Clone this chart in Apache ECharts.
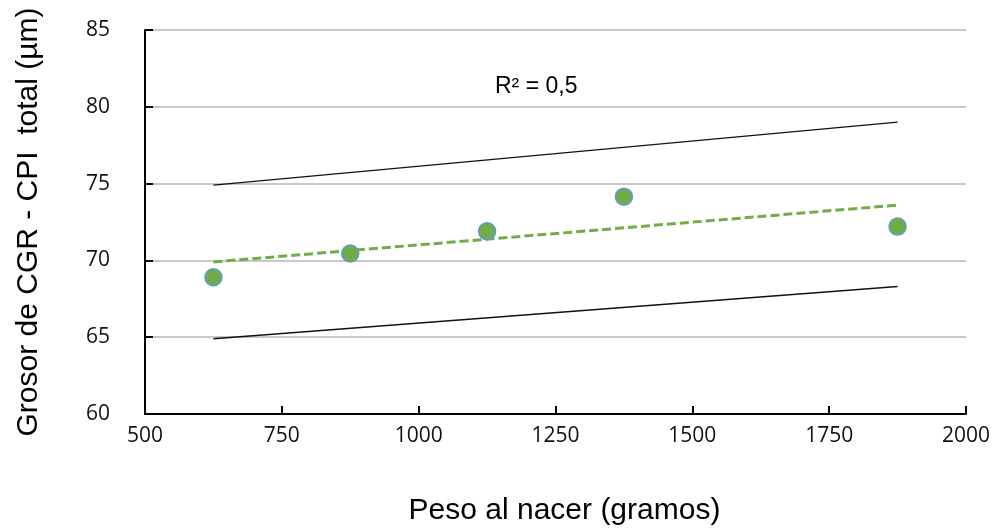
<!DOCTYPE html>
<html>
<head>
<meta charset="utf-8">
<script src="https://cdn.jsdelivr.net/npm/echarts@6/dist/echarts.min.js"></script>
<style>
  html, body { margin: 0; padding: 0; background: #fff; }
  #chart { width: 997px; height: 531px; }
</style>
</head>
<body>
<div id="chart"></div>
<script>
// Birth weight (g) vs. GCL-IPL total thickness (µm)
const pesoGramos = [625, 875, 1125, 1375, 1875];
const grosorUm = [68.9, 70.45, 71.9, 74.15, 72.2];

// Linear trend and its bounding lines (endpoints)
const lineaX = [625, 1875];
const tendencia = [69.9, 73.6];
const limiteSuperior = [74.9, 79.0];
const limiteInferior = [64.9, 68.3];

const r2Texto = 'R\u00b2 = 0,5';
const xTicks = { min: 500, max: 2000, step: 250 };
const yTicks = { min: 60, max: 85, step: 5 };

const pares = (xs, ys) => xs.map((x, i) => [x, ys[i]]);

const chart = echarts.init(document.getElementById('chart'), null, { renderer: 'canvas' });

const tickFont = { fontFamily: 'Open Sans', fontSize: 21, color: '#111', formatter: v => String(v) };

chart.setOption({
  animation: false,
  backgroundColor: '#ffffff',
  grid: { left: 145, right: 31, top: 30, bottom: 113, containLabel: false },
  xAxis: {
    type: 'value',
    min: xTicks.min, max: xTicks.max, interval: xTicks.step,
    name: 'Peso al nacer (gramos)',
    nameLocation: 'middle',
    nameGap: 82,
    nameTextStyle: { fontFamily: 'Liberation Sans', fontSize: 30, color: '#000', verticalAlign: 'top', padding: [0, 0, 0, 18] },
    axisLine: { show: true, onZero: false, lineStyle: { color: '#000', width: 2 } },
    axisTick: { show: true, inside: true, length: 8, lineStyle: { color: '#000', width: 2 } },
    axisLabel: Object.assign({ margin: 12 }, tickFont),
    splitLine: { show: false }
  },
  yAxis: {
    type: 'value',
    min: yTicks.min, max: yTicks.max, interval: yTicks.step,
    name: 'Grosor de CGR - CPI  total (\u00b5m)',
    nameLocation: 'middle',
    nameGap: 101,
    nameRotate: 90,
    nameTextStyle: { fontFamily: 'Liberation Sans', fontSize: 30, color: '#000' },
    axisLine: { show: true, onZero: false, lineStyle: { color: '#000', width: 2 } },
    axisTick: { show: true, inside: true, length: 8, lineStyle: { color: '#000', width: 2 } },
    axisLabel: Object.assign({ margin: 35 }, tickFont),
    splitLine: { show: true, lineStyle: { color: '#c8c8c8', width: 2 } }
  },
  series: [
    {
      name: 'Límite superior',
      type: 'line',
      data: pares(lineaX, limiteSuperior),
      symbol: 'none',
      lineStyle: { color: '#111', width: 1.3 },
      z: 3
    },
    {
      name: 'Límite inferior',
      type: 'line',
      data: pares(lineaX, limiteInferior),
      symbol: 'none',
      lineStyle: { color: '#111', width: 1.3 },
      z: 3
    },
    {
      name: 'Tendencia',
      type: 'line',
      data: pares(lineaX, tendencia),
      symbol: 'none',
      lineStyle: { color: '#70ad47', width: 3, type: [9, 4] },
      z: 4
    },
    {
      name: 'Grosor',
      type: 'scatter',
      data: pares(pesoGramos, grosorUm),
      symbol: 'circle',
      symbolSize: 17,
      itemStyle: { color: '#70ad47', borderColor: '#5b9bd5', borderWidth: 1.5, opacity: 1 },
      z: 5
    }
  ],
  graphic: [
    {
      type: 'text',
      left: 495,
      top: 75,
      style: { text: r2Texto, fontFamily: 'Liberation Sans', fontSize: 23, fill: '#000' }
    }
  ]
});
</script>
</body>
</html>
